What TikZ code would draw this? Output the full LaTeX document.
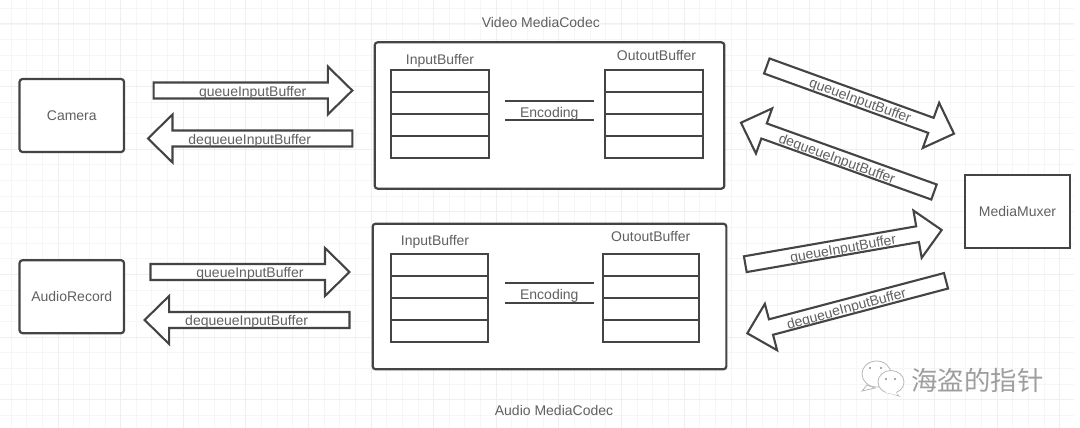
\documentclass[tikz,border=0pt]{standalone}
\usepackage{fontspec}
\setmainfont{Liberation Sans}
\newfontfamily\cjkfont{Noto Sans CJK SC}
\usetikzlibrary{calc}
\definecolor{ink}{HTML}{444444}
\definecolor{txt}{HTML}{606060}
\definecolor{gridminor}{HTML}{F6F6F6}
\definecolor{gridmajor}{HTML}{EFEFEF}
\tikzset{
  lbl/.style={text=txt,inner sep=0pt,yshift=-1.4pt,font=\fontsize{14}{16}\selectfont},
  roundbox/.style={draw=ink,line width=2.2pt,rounded corners=3pt,fill=white,inner sep=0pt,text=txt,font=\fontsize{14}{16}\selectfont},
  muxbox/.style={draw=ink,line width=2.2pt,fill=white,inner sep=0pt,text=txt,font=\fontsize{14}{16}\selectfont},
  cell/.style={draw=ink,line width=2pt,fill=white,inner sep=0pt},
  blockarrow/.style={draw=ink,line width=2.1pt,fill=white,line join=miter},
  encline/.style={draw=ink,line width=1.9pt},
  bubble/.style={draw=black!28,line width=.8pt,fill=white},
  bubbledot/.style={fill=black!45,draw=none}
}
\newcommand\blockarrow[3]{%
  \coordinate (#1t) at (#2);
  \coordinate (#1h) at (#3);
  \coordinate (#1n) at ($(#1h)!24.5pt!(#1t)$);
  \draw[blockarrow]
    ($(#1t)!8pt!90:(#1h)$) -- ($(#1n)!8pt!90:(#1h)$) -- ($(#1n)!24pt!90:(#1h)$)
    -- (#1h) -- ($(#1n)!24pt!-90:(#1h)$) -- ($(#1n)!8pt!-90:(#1h)$)
    -- ($(#1t)!8pt!-90:(#1h)$) -- cycle;
}
\newcommand\bufferstack[7]{% name, left, right, y0,y1,y2,y3
  \node[cell,anchor=north west,minimum width={#3pt-#2pt},minimum height=22pt] (#1a) at (#2,#4) {};
  \node[cell,anchor=north west,minimum width={#3pt-#2pt},minimum height=22pt] (#1b) at (#2,#5) {};
  \node[cell,anchor=north west,minimum width={#3pt-#2pt},minimum height=22pt] (#1c) at (#2,#6) {};
  \node[cell,anchor=north west,minimum width={#3pt-#2pt},minimum height=22pt] (#1d) at (#2,#7) {};
}
\begin{document}
\begin{tikzpicture}[x=1pt,y=-1pt]
\useasboundingbox (0,0) rectangle (1080,428);
\fill[white] (0,0) rectangle (1080,428);
% grid
\foreach \i in {0,...,69} {\draw[gridminor,line width=.9pt] ({\i*15.65-4.6},0) -- ({\i*15.65-4.6},428);}
\foreach \i in {0,...,27} {\draw[gridminor,line width=.9pt] (0,{\i*15.65-7.3}) -- (1074,{\i*15.65-7.3});}
\foreach \i in {0,...,17} {\draw[gridmajor,line width=1pt] ({\i*62.6-4.6},0) -- ({\i*62.6-4.6},428);}
\foreach \i in {0,...,6} {\draw[gridmajor,line width=1pt] (0,{\i*62.6+24}) -- (1074,{\i*62.6+24});}
\fill[white] (1074,0) rectangle (1080,428);

% sources
\node[roundbox,minimum width=104.5pt,minimum height=73pt] (camera) at (71.8,115.5) {\raisebox{-2pt}{Camera}};
\node[roundbox,minimum width=104.5pt,minimum height=73pt] (audiorecord) at (71.8,296.7) {\raisebox{-2pt}{AudioRecord}};
\node[muxbox,minimum width=105pt,minimum height=72.7pt] (muxer) at (1017.5,211.4) {\raisebox{-2pt}{MediaMuxer}};

% codecs
\node[roundbox,minimum width=349.6pt,minimum height=146.4pt] (videobox) at (549.5,115.5) {};
\node[roundbox,minimum width=353.7pt,minimum height=145.6pt] (audiobox) at (549.5,296.5) {};
\node[lbl] (videotitle) at (540.8,21) {Video MediaCodec};
\node[lbl] (audiotitle) at (554,408.7) {Audio MediaCodec};

% buffers
\bufferstack{vi}{390.4}{488}{69.3}{91.3}{113.3}{135.3}
\bufferstack{vo}{604.3}{701.6}{69.3}{91.3}{113.3}{135.3}
\bufferstack{ai}{390.4}{487}{252.7}{274.7}{296.7}{318.7}
\bufferstack{ao}{602}{698.3}{252.7}{274.7}{296.7}{318.7}
\node[lbl] (vilabel) at (440,59) {InputBuffer};
\node[lbl] (volabel) at (656.5,54) {OutoutBuffer};
\node[lbl] (ailabel) at (435,240.3) {InputBuffer};
\node[lbl] (aolabel) at (650.8,235) {OutoutBuffer};

% encoding
\coordinate (e1a) at (505,100.7); \coordinate (e1b) at (594.3,100.7);
\coordinate (e2a) at (505,120.3); \coordinate (e2b) at (594.3,120.3);
\coordinate (e3a) at (505,283.3); \coordinate (e3b) at (594.3,283.3);
\coordinate (e4a) at (505,302.7); \coordinate (e4b) at (594.3,302.7);
\draw[encline] (e1a) -- (e1b);
\draw[encline] (e2a) -- (e2b);
\draw[encline] (e3a) -- (e3b);
\draw[encline] (e4a) -- (e4b);
\node[lbl] (enc1) at (549.3,112) {Encoding};
\node[lbl] (enc2) at (549.3,294.3) {Encoding};

% block arrows
\blockarrow{a1}{153.6,90.5}{352.3,90.5}
\blockarrow{a2}{352.3,138.5}{148,138.5}
\blockarrow{a3}{150.5,272}{349.5,272}
\blockarrow{a4}{349.5,320}{144.6,320}
\blockarrow{a5}{766.8,66}{954,133.7}
\blockarrow{a6}{934,192}{741,122.7}
\blockarrow{a7}{745.3,264.2}{941.7,230}
\blockarrow{a8}{946,280.8}{747.3,333.3}
\node[lbl] (l1) at (252.7,91.5) {queueInputBuffer};
\node[lbl] (l2) at (249.8,139.3) {dequeueInputBuffer};
\node[lbl] (l3) at (250,272.3) {queueInputBuffer};
\node[lbl] (l4) at (246.6,320.7) {dequeueInputBuffer};
\node[lbl,rotate=-20] (l5) at (860,100) {queueInputBuffer};
\node[lbl,rotate=-20] (l6) at (836.7,158.3) {dequeueInputBuffer};
\node[lbl,rotate=10] (l7) at (843.3,248.3) {queueInputBuffer};
\node[lbl,rotate=15] (l8) at (846.7,308.3) {dequeueInputBuffer};

% watermark
\draw[bubble] (862,391) -- (867,385) -- (875,388) -- cycle;
\filldraw[bubble] (876.5,374) ellipse (14.5pt and 13pt);
\draw[bubble] (899,396) -- (893,391) -- (886,392) -- cycle;
\filldraw[bubble] (891,382) ellipse (13pt and 11.5pt);
\fill[white] (884,392) -- (896,392) -- (897,395) -- cycle;
\fill[bubbledot] (870,368) circle (1.2pt);
\fill[bubbledot] (881,368) circle (1.2pt);
\fill[bubbledot] (886,379) circle (1.2pt);
\fill[bubbledot] (895,379) circle (1.2pt);
\node[text=black!38,inner sep=0pt,font=\cjkfont\fontsize{26.4}{28}\selectfont] (mark) at (977.5,380) {海盗的指针};
\end{tikzpicture}
\end{document}
